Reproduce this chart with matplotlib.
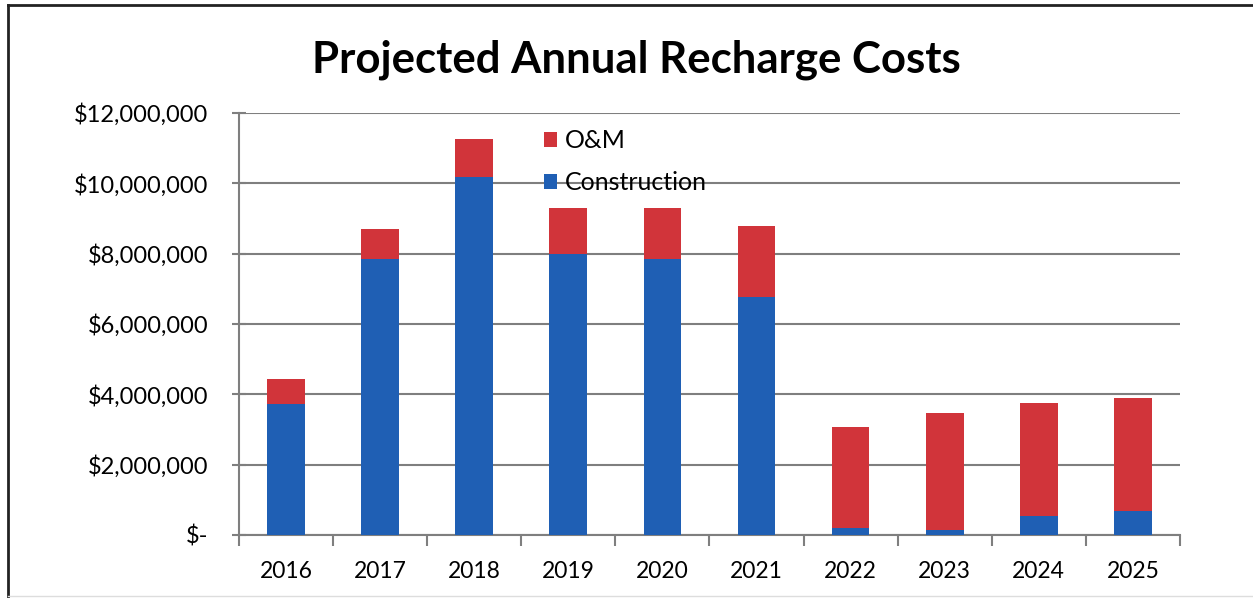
import matplotlib.pyplot as plt
from matplotlib.lines import Line2D
from matplotlib.ticker import FuncFormatter, FixedLocator
import numpy as np

# projected costs per year, in dollars
years = ['2016', '2017', '2018', '2019', '2020', '2021', '2022', '2023', '2024', '2025']
construction = [3720000, 7850000, 10190000, 8000000, 7860000, 6780000, 210000, 140000, 540000, 680000]
om = [710000, 850000, 1070000, 1300000, 1440000, 2000000, 2860000, 3320000, 3210000, 3210000]

blue = '#1f5fb4'
red = '#d1343a'
grid_color = '#7f7f7f'

plt.rcParams['font.family'] = ['Lato', 'DejaVu Sans']

fig = plt.figure(figsize=(12.53, 5.98), dpi=100)
ax = fig.add_axes([0.1907, 0.1054, 0.751, 0.7057])

x = np.arange(len(years))
ax.bar(x, construction, width=0.4, color=blue, label='Construction', zorder=3)
ax.bar(x, om, width=0.4, bottom=construction, color=red, label='O&M', zorder=3)

ax.set_xlim(-0.5, len(years) - 0.5)
ax.set_ylim(0, 12000000)
ax.set_yticks(np.arange(0, 12000001, 2000000))


def money(v, pos):
    if v == 0:
        return '$-'
    return '${:,.0f}'.format(v)


ax.yaxis.set_major_formatter(FuncFormatter(money))
ax.set_xticks(x)
ax.set_xticklabels(years)
ax.xaxis.set_minor_locator(FixedLocator(np.arange(-0.5, len(years), 1.0)))

ax.tick_params(axis='x', which='major', length=0, pad=19, labelsize=16.5)
ax.tick_params(axis='x', which='minor', length=8, direction='out', color=grid_color, width=1.5)
ax.tick_params(axis='y', length=10, direction='inout', color=grid_color, width=1.5, pad=17, labelsize=17)

ax.yaxis.grid(True, color=grid_color, linewidth=1.5, zorder=0)
ax.set_axisbelow(True)
for side in ['top', 'right']:
    ax.spines[side].set_visible(False)
for side in ['left', 'bottom']:
    ax.spines[side].set_color(grid_color)
    ax.spines[side].set_linewidth(1.5)

handles, labels = ax.get_legend_handles_labels()
ax.legend(handles[::-1], labels[::-1], loc='upper left', bbox_to_anchor=(0.3, 1.015),
          frameon=False, fontsize=18, handlelength=0.55, handleheight=0.55,
          handletextpad=0.3, labelspacing=0.75)

fig.text(0.508, 0.9, 'Projected Annual Recharge Costs', ha='center', va='center',
         fontsize=31.5, fontweight='bold')

# chart frame: dark top and left edges, faint bottom edge
fig.add_artist(Line2D([0.006, 1.0], [0.991, 0.991], transform=fig.transFigure,
                      color='#222222', linewidth=2))
fig.add_artist(Line2D([0.006, 0.006], [0.0, 0.991], transform=fig.transFigure,
                      color='#222222', linewidth=2))
fig.add_artist(Line2D([0.006, 1.0], [0.003, 0.003], transform=fig.transFigure,
                      color='#dddddd', linewidth=1))

fig.savefig('out.png', dpi=100)
